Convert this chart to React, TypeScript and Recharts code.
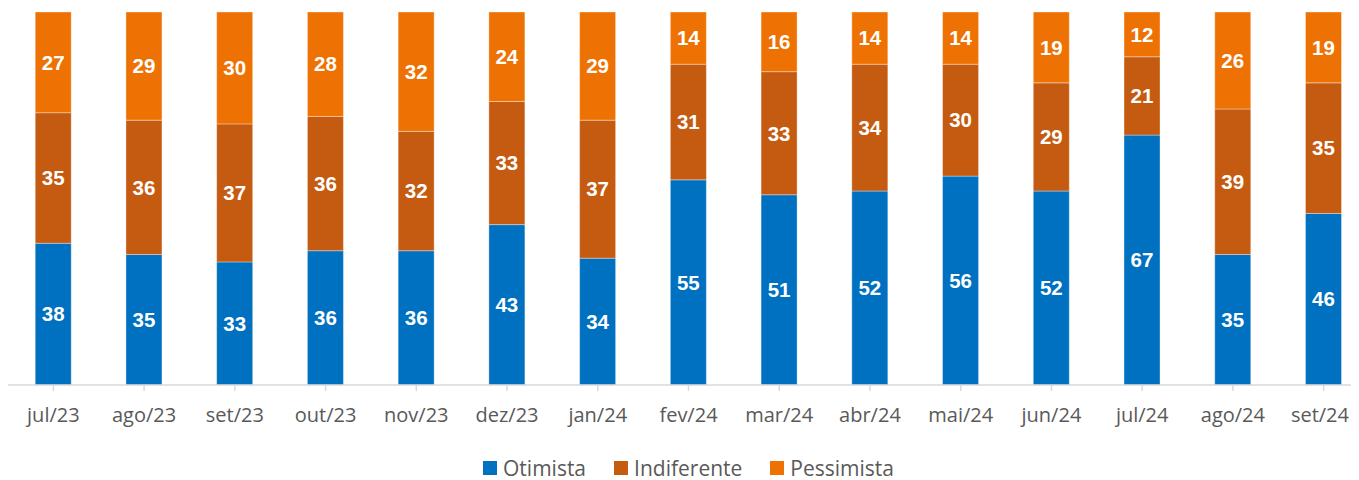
import React from "react";
import { BarChart, Bar, XAxis, YAxis, LabelList, Legend } from "recharts";

const categories = ["jul/23","ago/23","set/23","out/23","nov/23","dez/23","jan/24","fev/24","mar/24","abr/24","mai/24","jun/24","jul/24","ago/24","set/24"];
const otimista = [38,35,33,36,36,43,34,55,51,52,56,52,67,35,46];
const indiferente = [35,36,37,36,32,33,37,31,33,34,30,29,21,39,35];
const pessimista = [27,29,30,28,32,24,29,14,16,14,14,19,12,26,19];

const seriesNames = ["Otimista","Indiferente","Pessimista"];
const colors = ["#0070C0","#C55A11","#EE7203"];

const data = categories.map((c, i) => ({
  name: c,
  Otimista: otimista[i],
  Indiferente: indiferente[i],
  Pessimista: pessimista[i],
}));

const FONT = "'Open Sans', 'Noto Sans', sans-serif";

const renderLegend = () => (
  <div style={{ display: "flex", justifyContent: "center", alignItems: "center", fontFamily: FONT, fontSize: 21, color: "#595959", height: 24 }}>
    {seriesNames.map((n, i) => (
      <div key={n} style={{ display: "flex", alignItems: "center", marginRight: i < 2 ? 28 : 0 }}>
        <span style={{ display: "inline-block", width: 14, height: 14, background: colors[i], marginRight: 6 }} />
        <span>{n}</span>
      </div>
    ))}
  </div>
);

const Tick = (props: any) => {
  const { x, y, payload, index } = props;
  const last = index === categories.length - 1;
  return (
    <text
      x={last ? Math.min(x + 29, 1341) : x}
      y={y}
      dy="0.71em"
      textAnchor={last ? "end" : "middle"}
      fill="#595959"
      fontSize={20}
      fontFamily={FONT}
    >
      {payload.value}
    </text>
  );
};

export default function App() {
  return (
    <div style={{ width: 1343, height: 472, fontFamily: FONT }}>
      <style>{"html,body{overflow:hidden;}"}</style>
      <BarChart
        width={1361}
        height={472}
        data={data}
        margin={{ top: 4, right: 0, left: 0, bottom: 0 }}
        barCategoryGap="30%"
      >
        <XAxis
          dataKey="name"
          axisLine={{ stroke: "#D9D9D9", strokeWidth: 1.5 }}
          tickLine={{ stroke: "#D9D9D9", strokeWidth: 1.5 }}
          tickSize={6}
          tickMargin={17}
          interval={0}
          height={71}
          tick={<Tick />}
        />
        <YAxis hide domain={[0, 100]} />
        <Legend content={renderLegend} verticalAlign="bottom" height={24} />
        {seriesNames.map((s, i) => (
          <Bar key={s} dataKey={s} stackId="a" fill={colors[i]} stroke="#ffffff" strokeOpacity={0.35} strokeWidth={1} isAnimationActive={false}>
            <LabelList dataKey={s} position="center" fill="#ffffff" fontSize={20.5} fontWeight="bold" fontFamily="'Liberation Sans', Arial, sans-serif" />
          </Bar>
        ))}
      </BarChart>
    </div>
  );
}
